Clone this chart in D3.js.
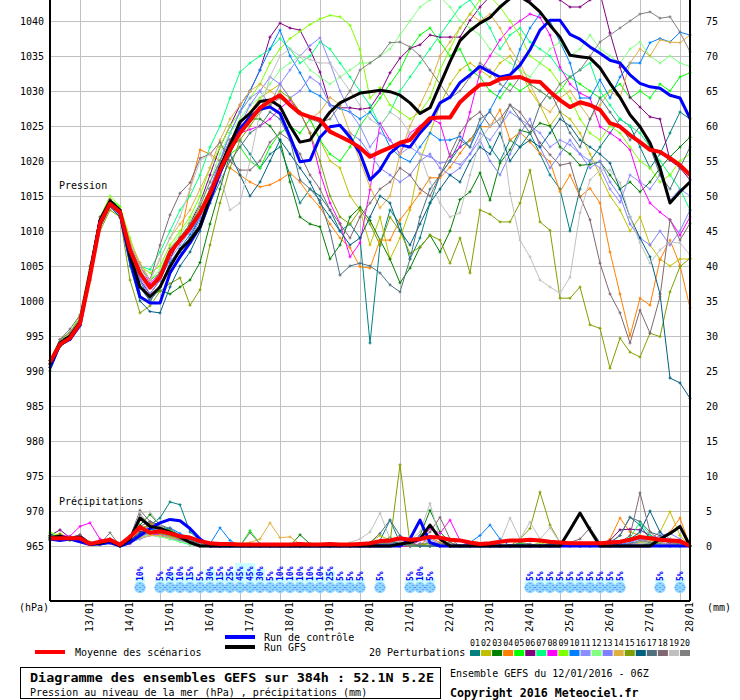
<!DOCTYPE html>
<html>
<head>
<meta charset="utf-8">
<script src="https://cdn.jsdelivr.net/npm/d3@7"></script>
<style>
	body { margin: 0; background: #fff; }
	svg text { font-family: "DejaVu Sans Mono", "Liberation Mono", monospace; }
</style>
</head>
<body>
<svg id="chart" width="740" height="700"></svg>
<script>
// run GEFS 12/01/2016 06Z, one value every 6h (65 steps over 384h)
const dateLabels = ["13/01","14/01","15/01","16/01","17/01","18/01","19/01","20/01","21/01","22/01","23/01","24/01","25/01","26/01","27/01","28/01"];
const pressureTicks = [965,970,975,980,985,990,995,1000,1005,1010,1015,1020,1025,1030,1035,1040];
const precipTicks = [0,5,10,15,20,25,30,35,40,45,50,55,60,65,70,75];
const pertNames = ["01","02","03","04","05","06","07","08","09","10","11","12","13","14","15","16","17","18","19","20"];
const pertColors = ["#008080","#c0c000","#008000","#ff8000","#00ff00","#800080","#00ff80","#ff00ff","#80ff00","#0080ff","#8c8cff","#80ff80","#8080ff","#e0b040","#80a000","#006080","#507080","#806870","#c0c0c0","#808080"];

const pMean = [
	991.3,993.8,994.7,996.8,1003.5,1011.1,1013.9,1012.7,
	1007.3,1004,1001.9,1003.4,1006.9,1008.7,1010.4,1012.6,
	1015.4,1018.7,1021.6,1024,1025.8,1027.6,1028.6,1029.4,
	1028,1026.8,1026.3,1025.9,1024.2,1023.5,1022.8,1021.9,
	1020.6,1021.3,1021.9,1022.6,1023,1024.7,1026.1,1026.2,
	1026.2,1028.4,1029.7,1030.9,1031,1031.7,1031.9,1032,
	1031.4,1031.3,1029.9,1028.7,1027.7,1028.4,1028,1027.3,
	1025.4,1024.9,1023.7,1022.7,1021.6,1021.3,1020.4,1019.4,
	1018];
const pControl = [
	990.5,993.8,994.5,996.5,1003.8,1011.5,1014,1012.5,
	1006,1000.6,999.7,999.7,1004,1006.3,1008.3,1010.6,
	1014.4,1018.3,1021.6,1024.6,1026.3,1027.4,1027.7,1026.8,
	1023.5,1019.9,1020.1,1023.4,1024.9,1025.1,1023.4,1021.1,
	1017.3,1018.7,1021.1,1022.3,1022,1024,1025.6,1028.3,
	1029.1,1031.2,1032.3,1033.5,1032.7,1032,1032.3,1033.7,
	1035.9,1038.7,1040.1,1040.1,1038.1,1037.4,1036.3,1035.4,
	1034.4,1034,1032.3,1031.1,1030.6,1030.4,1029.4,1029,
	1026.1];
const pGfs = [
	991,994,995,997,1004,1011.5,1014.3,1013,
	1006.5,1002,1000.6,1002,1004.9,1007.3,1008.7,1010.6,
	1014.9,1019.1,1022.3,1025.6,1026.8,1028.5,1028.7,1027.8,
	1025,1022.7,1023,1025.1,1027,1028.3,1029,1029.7,
	1029.9,1030.1,1029.9,1029.4,1028.3,1026.8,1027.6,1030.9,
	1034.2,1037.2,1038.6,1039.7,1040.5,1042,1043.2,1043.5,
	1042.6,1041.3,1039.4,1037.7,1035.1,1034.9,1034.7,1033.3,
	1031.1,1029.1,1026.6,1024.9,1022.6,1019,1014,1015.6,
	1017];

const p01 = [991,994,995,997,1004,1011.5,1014,1012.5, 1007,1003,1000,1002,1005,1007,1009,1012, 1016,1019,1022,1023,1021,1019,1021,1022, 1018,1014,1016,1015,1013,1010,1011,1009, 994,1008,1013,1011,1006,1009,1014,1018, 1020,1022,1023,1025,1022,1020,1023,1022, 1024,1021,1018,1016,1010,1016,1020,1022, 1024,1026,1025,1022,1019,1021,1024,1027, 1026];
const p02 = [990.5,994,995.5,997.5,1004.5,1011,1013.5,1012.5, 1007,1004,1002,1004,1007,1009,1011,1013, 1016,1019,1022,1024,1027,1029,1030,1031, 1029,1027,1026,1023,1020,1019,1015,1013, 1008,1012,1006,1009,1013,1020,1024,1028, 1031,1033,1034,1033,1032,1034,1035,1033, 1030,1028,1025,1027,1026,1024,1021,1018, 1015,1013,1010,1012,1008,1006,1005,1006, 1006];
const p03 = [991,994.5,995,997,1003.5,1010.5,1013.5,1012, 1006,1002,1000.5,1001.5,1001,1002,1003,1005.5, 1011,1016,1021,1024,1026,1026,1025,1023, 1017,1012,1011,1010.6,1006,1008,1012,1013.4, 1011.5,1008.7,1006,1002.6,1004.7,1007.7,1009.4,1007, 1010,1014.5,1015.6,1018.3,1014.4,1019.7,1021.6,1024.4, 1024,1025.4,1025,1022,1021,1019.4,1019.5,1019.9, 1018,1016,1017,1015.6,1017,1019,1020.6,1022, 1023.4];
const p04 = [991.5,994.5,995.5,997.5,1004,1011.5,1014,1012.5, 1007.5,1004,1002,1004,1006,1009,1016,1021.6, 1021,1020,1019,1018,1017,1016.3,1016.6,1017.3, 1018.3,1017,1015,1013.4,1011,1009,1007.6,1004.9, 1004.7,1008.7,1008.7,1011.6,1013.4,1015.4,1017.6,1017.6, 1019.1,1021.1,1023,1024.9,1024.9,1027.3,1023,1024.1, 1022.7,1021.1,1019.9,1015.6,1018,1014.9,1016.1,1014, 1007,1001,995,1000.4,999.4,1005.9,1008.7,1005.1, 999];
const p05 = [991,994,995,997.5,1004,1011,1014.5,1013.5, 1008,1005,1003,1004,1007,1009,1011,1013, 1016,1019,1021,1022,1020,1019,1022,1024, 1025,1024,1026,1023,1021,1020,1022,1025, 1027,1029,1031,1033,1036,1038,1039,1037, 1035,1036,1033,1032,1030,1029,1031,1030, 1031,1030,1029,1030,1032,1031,1030,1029, 1030,1031,1029,1030,1029,1031,1030,1032, 1032.6];
const p06 = [991,994,995,997,1004.5,1011.5,1014.5,1013, 1007,1003,1001,1003,1006,1009,1011,1014, 1018,1022,1025,1028,1030,1033,1037.7,1039.7, 1039,1038.7,1035.9,1032.7,1028,1027.6,1027.6,1027.4, 1027.6,1029.7,1032.6,1034.7,1036.1,1036.6,1038,1037.7, 1037.7,1037.7,1040.1,1042,1043.5,1044,1044,1043.5, 1043,1043.5,1044,1043,1042,1042,1043,1044, 1038.3,1033.4,1029.1,1027.7,1026.3,1026,1020.1,1019, 1017.3];
const p07 = [991.5,994.5,995.5,997.5,1004,1011,1014,1013, 1008,1005,1004.5,1007,1010,1013,1015,1018, 1022,1025,1029,1032.7,1034,1035,1036,1037.5, 1036,1034,1035,1037,1036,1034,1032,1030, 1028,1025,1027,1030,1032,1034,1036,1038, 1040,1042,1043,1041,1039,1036,1038,1039, 1037,1036,1035,1033,1032,1033,1034,1030, 1028,1026,1025,1024,1022,1020,1018,1016, 1013];
const p08 = [991,994,995,997,1004,1010.5,1013.5,1012.5, 1008,1005,1002.5,1004,1007,1008.5,1010,1012, 1016,1019,1023,1024,1024.5,1025,1026,1027.5, 1028.7,1026.9,1024,1018.3,1014,1011.1,1006.3,1008.3, 1015.9,1025.4,1023,1021,1024,1025,1026.1,1025.4, 1020.6,1022,1027,1032.7,1035,1037.3,1039,1040, 1041,1040.5,1038,1033.4,1031,1029.7,1029,1024.9, 1024,1023,1021.6,1017,1014,1012.7,1011.6,1009.4, 1012];
const p09 = [991.5,994.5,995.5,998,1005,1012,1015,1013.5, 1009,1005,1004,1005,1008,1010,1012,1015, 1019,1022,1025,1027,1029,1031,1034,1036, 1037.5,1038.5,1039.5,1040.3,1040.8,1040.6,1039.4,1035.9, 1029,1030.5,1028,1027,1026,1027,1029,1033, 1036,1039,1041,1043,1043.5,1042,1040,1038, 1035,1034,1033,1031,1029,1026,1024,1023, 1025,1024,1022,1020,1019,1017,1018,1020, 1021];
const p10 = [990.5,993.5,994.5,996.5,1003.5,1011,1014,1012.5, 1007,1002,1000,1002,1005.5,1007.5,1009.5,1012, 1016,1020,1024,1027,1030,1033,1036,1038.7, 1035,1032.6,1030,1029.3,1028,1027.5,1027,1026, 1027,1025,1022,1020.6,1019.9,1022,1024,1023, 1023,1023.5,1022,1025,1027.3,1030,1032,1036, 1039,1041,1040,1037,1034,1029,1029,1031.6, 1029,1032,1034,1034,1036.9,1037.5,1037,1038.4, 1038];
const p11 = [991,994,995,997,1004,1011,1014,1012.5, 1007,1003.5,1001,1003,1006,1008,1010,1012, 1016,1020,1024,1027,1029,1030,1028,1031, 1033,1035,1036.5,1037.6,1034,1030,1027,1025, 1022,1024,1023,1021,1022,1021,1020.6,1019.7, 1020,1019.5,1021,1024,1023,1025,1027,1026, 1025,1024,1022,1023,1022.3,1021,1020,1019, 1016,1014.1,1018,1017,1016,1018,1014.4,1016, 1015];
const p12 = [991,994,995,997,1004,1011,1014,1013, 1007.5,1004.5,1003,1004.5,1007.5,1009.5,1011.5,1014, 1017,1021,1024,1026,1028,1029,1031,1033, 1034,1035,1033,1032,1031,1032,1033,1034, 1034,1035,1036,1038,1040,1042,1043,1043.5, 1042,1040,1039,1038,1036,1035,1034,1033, 1032,1034,1036,1037,1035,1036,1038,1036, 1035,1034,1036,1037,1035,1034,1035,1034, 1033.5];
const p13 = [990.5,994,995,997,1003.5,1010.5,1013.5,1012, 1006.5,1003,1000.5,1002,1005,1007,1009,1011.5, 1015,1019,1023,1025,1028,1030,1032,1031, 1029,1030,1032,1031,1028,1025,1024,1023, 1021,1019,1018,1017,1018,1020,1021,1019, 1018,1019,1021,1023,1020,1018,1021,1024, 1026,1022,1019,1021,1023,1021,1019,1020, 1017,1015,1011,1009,1008,1010,1008,1010, 1013];
const p14 = [991,994.5,995.5,997.5,1004.5,1011.5,1014.5,1013, 1008.5,1005.5,1003,1006,1009,1011,1013,1016, 1019,1023,1026,1028,1030,1031,1030,1029, 1028,1027,1026,1027,1029.1,1028,1024,1020, 1016.3,1013.3,1015,1021,1025,1028,1031,1035, 1037,1039,1041,1040,1041,1039,1036,1034, 1031,1028,1027,1029,1030,1028,1026,1028, 1030,1029,1034,1036,1035,1037.3,1037,1036.9, 1038];
const p15 = [990.5,993.5,994.5,996.5,1003,1010,1013,1012, 1003,998.3,999.3,1001.4,1002.5,1003.3,999.4,1001.6, 1008,1014,1019,1023,1025,1027,1028,1030, 1029,1027,1024,1020,1015,1012,1011,1013, 1011,1008,1012,1010,1006.8,1007.7,1009.4,1008.7, 1005.4,1009,1004,1013,1012.4,1011.3,1011.3,1014, 1018.7,1011.3,1010.1,1000.4,1000.4,1002,996.6,996.1, 990.4,994.7,992.7,992,995.4,994.9,1001.3,1004.9, 1006.1];
const p16 = [990,993.5,994.5,996.5,1003,1010.5,1013.5,1012, 1005,1000,998.5,998.3,1002,1005,1007,1010, 1014,1018,1021,1018,1015,1017,1020,1023, 1021,1019,1017,1014,1012,1010,1008,1009, 1012,1015,1014,1010,1008,1011,1014,1016, 1018,1017,1020,1022,1021,1024,1020,1022, 1023,1022,1024,1026,1025,1023,1022,1021, 1019.7,1016,1012,1009,1006.3,1001,989,988.3, 986.1];
const p17 = [991,994,995,997,1004,1011,1014,1012.5, 1006,1002,1000,1002,1005,1007,1009,1011, 1014,1017,1020,1022,1024,1025,1027,1026, 1023,1017.3,1016,1014.4,1010,1003.7,1005,1005.4, 1005,1004,1002.3,1001.3,1006,1012,1016,1018, 1020,1023,1022,1026,1027,1025,1028,1026, 1024,1028,1030,1027,1024,1022,1026,1029, 1027,1025,1023,1025,1022,1018,1016,1019, 1022];
const p18 = [991.5,994.5,996,998,1005,1012,1014.5,1013, 1008,1005,1003,1008,1012.3,1015.4,1016.9,1020.4, 1021,1022.7,1020,1018.7,1018.7,1020,1022.7,1024, 1023,1021,1018,1016,1013,1011,1009,1012, 1014,1016,1017,1019,1018,1016,1015,1018, 1021,1024,1026,1027,1025,1026,1028,1027, 1025,1022.6,1020.9,1019.4,1019.7,1014.9,1011.6,1005.4, 1001,998.3,994,998.7,995.4,1000.6,1011.6,1008.7, 1011.1];
const p19 = [991,994,995,997.5,1004.5,1011.5,1014,1013, 1008,1005,1003,1006,1009,1012,1016,1020, 1021,1018,1013,1014,1020,1027,1032,1035, 1036,1035,1034.5,1034,1034,1032,1030,1028, 1026,1025,1027,1026,1024,1021,1017,1014, 1012,1012.6,1018,1023,1025,1026.1,1015.4,1008.7, 1006.3,1003,1002,1001.1,1003.4,1012.6,1017.3,1018.7, 1018.7,1016.9,1012,1008.3,1005.4,1007.3,1008.4,1008.3, 1006.6];
const p20 = [991,994.5,995.5,997.5,1004,1011,1014,1012.5, 1007,1004,1002,1004,1007.5,1009,1011,1013.5, 1017,1020,1023,1025,1026,1027.5,1028,1029, 1028,1027,1026,1025.5,1026,1028,1030,1033, 1034,1035,1036.9,1037,1036.3,1035,1033,1031, 1029,1030,1032,1034,1033,1031,1030,1032, 1031,1030,1029,1031,1032,1033,1035,1037, 1038,1039,1040,1041,1041.3,1040.4,1040.6,1038.4, 1035.6];

// precipitation (mm per 6h)
const rMean = [1.1,1.1,1.1,1.1,0.3,0.6,0.9,0.2, 1.3,2.7,1.9,2.1,1.8,1.4,1.2,0.7, 0.4,0.3,0.3,0.2,0.2,0.2,0.2,0.2, 0.2,0.3,0.2,0.2,0.3,0.2,0.2,0.3, 0.4,0.7,0.8,1.1,0.9,1,1.3,1.2, 0.9,0.8,0.5,0.3,0.4,0.6,0.8,0.8, 0.9,0.8,0.6,0.5,0.4,0.4,0.4,0.4, 0.5,0.6,0.9,1.3,1.1,0.9,0.8,0.7, 0];
const rControl = [1,0.8,1,0.6,0.2,0.3,0.5,0, 0.5,1.5,2.5,3.3,3.8,3.6,2.5,1, 0,0,0,0,0,0,0,0, 0,0,0,0,0,0,0,0, 0,0,0,0,1,3.7,0.5,0, 0,0,0,0,0,0,0,0, 0,0,0,0,0,0,0,0, 0,0,0,0,0,0,0,0, 0];
const rGfs = [1.2,1.4,1,1.3,0.3,0.4,0.8,0, 1,4,2.8,2.5,2,1.3,0.5,0, 0,0,0,0,0,0,0,0, 0,0,0,0,0,0,0,0, 0,0,0,0.3,0.5,1,3,1, 0,0,0,0,0,0,0,0, 0,0,0,0,2.3,4.7,2.3,0, 0,0,0,0,0,1,1.8,2.8, 0];
const r01 = [1.5,1.2,1,1.4,0.5,0.4,0.8,0, 1,2.5,3,4,6.3,5.9,2,0.8, 0.3,0,0,0.2,0,0,0,0, 0,0,0.3,0,0,0,0,0, 0,0.8,3.7,0.5,0,0.3,0,0, 0,0,0,0.2,0,0,0,0.3, 0,0,0,0,0,0.4,0,0, 0.5,1.5,4.1,3,1,0.5,0,0.3, 0];
const r02 = [1.2,1.8,1,1.5,0.6,0.2,1,0, 0.8,2,3.2,2.5,1.6,1,0.6,0.2, 0,0,0,0,0.3,0,0,0, 0,0,0,0,0,0.2,0,0, 0.5,1.5,0.8,0,0,0,0,0, 0,0,0,0,0,0,0,0, 0,0.5,0,0,0,0,0,0, 0,0,0,0.5,1,2,4.9,1.5, 0];
const r03 = [1,1.6,0.8,1.2,0.3,0.5,0.6,0, 1.5,3,4.5,3,2.2,1.5,0.8,0.3, 0,0,0,0,0,0,0,0, 0,1.6,0.3,0,0,0,0,0, 0,0.5,1.2,0.3,0,1.5,5.1,2, 0.5,0,0,0,0,0,0,0, 0,0,0.4,0.2,0,0,0,0, 0,0,0,0,0.3,0,0,0, 0];
const r04 = [1.3,1.1,1.2,1,0.4,0.3,0.8,0, 1,2.2,3.3,2.6,2,1.2,0.5,0, 0,0,0,0,0,0,0,0, 0,0,0,0,0,0,0,0, 0,0.3,0.5,0.8,0.3,0.2,1.2,0.5, 0,0,0,0,0,0,0,0, 0,0,0,0.3,0,0,0,0, 1,4,2,1.5,0.5,0.8,2,4, 0];
const r05 = [1.8,1.2,1,1.3,0.4,0.3,0.9,0, 0.5,1.5,2,2.8,2.2,1.5,0.6,0, 0,0,0,0,2.2,0.3,0,0, 0,0,0,0,0,0,0,0, 0,0.4,0.6,0.2,0,0,0,0, 0,0,0,0,0,0,0,0.4, 0.2,0,0,0,0,0,0,0, 0,0,0.3,0.6,0.2,0,0,0, 0];
const r06 = [1.5,2.3,1.2,1.6,0.5,0.6,0.8,0, 0.8,2,2.5,2,1.5,1,0.5,0.2, 0,0,0,0,0,0,0,0, 0,0,0,0,0,0,0,0, 0,0.2,0.4,0,0,0,0,0, 0,0,0,0,0,0,0,0, 0,0,0,0,0,0,0,0.3, 0.8,2.3,2.4,2.3,1.5,1,0.5,0.3, 0];
const r07 = [1,1.3,0.9,1.1,0.2,0.2,0.4,0, 0.5,1.4,1.8,1.5,1,0.6,0.2,0, 0,0,0,0,0,0,0,0, 0,0,0,0,0,0,0,0.3, 0,0,0.5,0.3,0,0,0.4,0.2, 0,0,0,0,0,0,0,0, 0,0,0,0,0,0,0,0, 0,0.4,1.2,3.4,1.5,0.5,0,0.5, 0];
const r08 = [1.2,1.5,1.4,2.8,3.3,1,0.4,0, 0.3,1.5,1.8,1.6,1.2,0.8,0.3,0, 0,0,0,0,0,0,0,0, 0,0,0,0,0,0,0,0, 0,0.2,0.4,0,0,0.8,2.5,1.8, 3.7,0.8,0,0,0,0,0,0, 0,0,0,0,0,0,0,0, 0,0.3,0.8,1,0.6,0.5,0.3,0, 0];
const r09 = [2,1.4,1,1.2,0.4,0.3,0.7,0, 0.5,1.2,2,1.8,1.3,0.8,0.3,0, 0,0,0,0,0,0,0,0, 0,0,0,0,0,0,0,0, 0,0,0.3,0.2,0,0,0.5,0.3, 0,0,0,0,0,0,0,0, 0,0,0.5,0,0,0,0,0, 0,0,0.3,0.5,0.8,0.5,1,0.8, 0];
const r10 = [1.1,1,1.2,1,0.3,0.2,0.5,0, 0.6,1.5,2.4,2.2,2.6,1.8,1,0.5, 0.3,2.6,0.8,0,0,0,0,0, 0,0,0,0,0,0,0,0, 0,0,0.3,0.5,0.2,0,0,0, 0,0,0.5,1.5,3,1,0,0, 0,0,0,0,0,0,0,0, 0,0.2,0.5,0.4,0.3,0.2,0,0, 0];
const r11 = [0.8,1.2,1,0.9,0.2,0.3,0.5,0, 0.5,1,1.5,1.4,1.2,0.8,0.4,0, 0,0,0,0,0,0,0,0, 0,0,0,0,0,0,0,0, 0,0.3,0.5,0.3,0.5,1,0.5,0.2, 0,0,0,0,0,0,0,0, 0,0,0,0,0,0,0,0, 0,0,0.3,0.5,1,2,1,0.5, 0];
const r12 = [1.4,1,1.1,1.2,0.3,0.4,0.6,0, 0.4,1.2,1.6,1.3,1,0.6,0.3,0, 0,0,0,0,0,0,0,0, 0,0,0,0,0,0,0,0, 0,0,0,0.2,0,0,0,0, 0,0,0,0,0,0,0,0, 0,0.3,0,0,0,0,0,0, 0,0,0,0.4,0.6,0.3,0.5,0.8, 0];
const r13 = [0.9,1.1,1,1,0.3,0.2,0.4,0, 0.6,1.3,1.9,1.7,1.4,1,0.5,0.2, 0,0,0,0,0,0,0,0, 0,0,0,0,0,0,0,0, 0,0,0.4,0.8,0.6,1.5,1,0.3, 0,0,0,0,0,0,0,0, 0,0,0,0,0,0,0,0, 0,0,0.5,1,0.8,1.5,1.8,1, 0];
const r14 = [1,1.3,1.2,1,0.3,0.3,0.5,0, 0.5,1.2,1.5,1.5,1.2,1,0.6,0.2, 0,0,0,0.3,0.5,1,3.3,1.2, 1.3,0.3,0,0,0,0,0,0, 0,0.5,1,0.5,0,0,0.3,0, 0,0,0,0,0,0,0,0, 0,0,0,0,0,0,0,0, 0,0,0,0.5,0.8,1,0.5,0.3, 0];
const r15 = [1.3,1.1,1,1.2,0.3,0.2,0.5,0, 0.4,1.6,2,1.8,1.5,1,0.5,0, 0,0,0,0,0,0,0,0, 0,0,0,0,0,0,0,0, 0,0.3,0.5,11.6,0.3,0,0.5,0.3, 0,0,0,0,0,0,0,1, 2.5,7.7,3,0.5,0,0,0,0, 0,0,0,0,0.5,0.3,0,0.5, 0];
const r16 = [1.2,1,1.3,1.1,0.4,0.3,0.6,0, 0.8,1.8,3,2.5,1.8,1.2,0.6,0.2, 0,0,0,0,0,0,0,0, 0,0,0,0,0,0,0,0, 0,0.5,0.8,0.3,0,0,0,0, 0,0,0,0,0,0,0,0, 0,0,0,0,0.3,0,0,0, 0,0.5,1,2,5,2,0.5,0.8, 0];
const r17 = [1,1.2,1.1,1.3,0.5,0.4,1,0, 1,2.8,3.5,3,2.5,1.5,0.8,0.3, 0,0,0,0,0,0,0,0, 0,0,0,0,0,0,0,0, 0.5,1.8,3.7,1.5,0.5,0,0,0, 0,0,0,0,0,0,0,0, 0,0,0.3,0,0.3,0,0,0, 0.5,1.5,4.1,3.5,2,1.5,0.8,0.5, 0];
const r18 = [1.5,1.2,1.3,1.4,0.5,0.3,1,0, 1.2,5.1,3.5,2.8,2,1.2,0.6,0.2, 0,0,0,0,0,0,0,0, 0,0,0,0,0,0,0,0, 0,0.3,0.5,0.3,0.5,1,2,4.1, 1,0,0,0,0,0,0,0, 0,0,0,0,0.5,1,2.6,0.5, 0,0.5,1.5,7.6,2,0.8,0.5,0.3, 0];
const r19 = [1.1,1.3,1,1.2,0.3,0.4,0.7,0, 1,4.8,4.9,3,2,1.2,0.6,0.2, 0,0,0,0,0,0,0,0, 0,0,0,0,0,0,0.5,1, 2,4.7,1,0.5,0.8,2,6.1,1, 0.3,0,0,0,0,0.5,4,1, 3.4,1,2.6,0.5,0,0,0,0, 0,0,0,0.3,0.5,0.3,0,0, 0];
const r20 = [0.8,1,1.2,1.5,0.5,0.3,1.9,0, 0.8,4.5,3,2.5,1.8,1,0.5,0.2, 0,0,0,0,1.9,0.3,0,0, 0,0,0,0,0,0,0,0, 0,0.3,0.5,0.3,0,0.3,0.5,0.3, 0.5,0,0,0,0,0,0,0.5, 0.3,0,0,0,0,0,0,0, 0,0,0.3,0.8,0.5,0.3,0.2,0.5, 0];

// snow risk: step index and probability
const snowSteps = [9,11,12,13,14,15,16,17,18,19,20,21,22,23,24,25,26,27,28,29,30,31,33,36,37,38,48,49,50,51,52,53,54,55,56,57,61,63];
const snowPct = [10,5,20,10,15,5,30,15,25,45,45,30,5,10,10,10,10,10,25,5,5,5,5,5,10,5,5,5,5,5,5,5,5,5,5,5,5,5];

const pertPressure = [p01,p02,p03,p04,p05,p06,p07,p08,p09,p10,p11,p12,p13,p14,p15,p16,p17,p18,p19,p20];
const pertPrecip = [r01,r02,r03,r04,r05,r06,r07,r08,r09,r10,r11,r12,r13,r14,r15,r16,r17,r18,r19,r20];

class EnsembleChart {
	constructor(el) {
		this.svg = d3.select(el);
		this.x = d3.scaleLinear().domain([0,384]).range([50,690]);
		this.yP = d3.scaleLinear().domain([965,1040]).range([546,21]);
		this.yR = d3.scaleLinear().domain([0,75]).range([546,21]);
		this.snowBar = d3.scaleLinear().domain([0,45]).range([2,20]);
	}

	draw_grid() {
		const g = this.svg.append("g").attr("shape-rendering","crispEdges").attr("stroke","#c0c0c0");
		g.selectAll(".hg").data(pressureTicks).enter()
		 .append("line")
		 .attr("x1",50).attr("x2",690)
		 .attr("y1",d => this.yP(d)).attr("y2",d => this.yP(d));
		g.selectAll(".vg").data(dateLabels).enter()
		 .append("line")
		 .attr("x1",(d,i) => this.x(18 + 24*i)).attr("x2",(d,i) => this.x(18 + 24*i))
		 .attr("y1",0).attr("y2",600);
		return this;
	}

	draw_axes() {
		const left = d3.axisLeft(this.yP).tickValues(pressureTicks).tickSize(0).tickPadding(6).tickFormat(d3.format("d"));
		const right = d3.axisRight(this.yR).tickValues(precipTicks).tickSize(0).tickPadding(16).tickFormat(d3.format("d"));
		const bottom = d3.axisBottom(this.x).tickValues(dateLabels.map((d,i) => 18 + 24*i))
		                 .tickSize(0).tickFormat((d,i) => dateLabels[i]);

		[[left,50],[right,690]].forEach(([ax,tx]) => {
			const g = this.svg.append("g").attr("transform",`translate(${tx},0)`).call(ax);
			g.select(".domain").remove();
			g.selectAll("text").attr("font-size",10).attr("fill","#000")
			 .style("font-family","'DejaVu Sans Mono', monospace");
		});

		const gb = this.svg.append("g").attr("transform","translate(0,600)").call(bottom);
		gb.select(".domain").remove();
		gb.selectAll("text")
		  .attr("y",0).attr("dy",0).attr("x",0)
		  .attr("text-anchor","start")
		  .attr("transform","translate(12,32) rotate(-90)")
		  .attr("font-size",10).attr("fill","#000")
		  .style("font-family","'DejaVu Sans Mono', monospace");

		const frame = this.svg.append("g").attr("stroke","#000").attr("stroke-width",2).attr("shape-rendering","crispEdges");
		frame.append("line").attr("x1",50).attr("x2",50).attr("y1",0).attr("y2",601);
		frame.append("line").attr("x1",690).attr("x2",690).attr("y1",0).attr("y2",601);
		frame.append("line").attr("x1",50).attr("x2",690).attr("y1",601).attr("y2",601);

		const lab = [["Pression",59,189],["Précipitations",59,505],["(hPa)",19,611],["(mm)",707,611]];
		this.svg.selectAll(".lab").data(lab).enter()
		    .append("text")
		    .attr("x",d => d[1]).attr("y",d => d[2])
		    .attr("font-size",10)
		    .text(d => d[0]);
		return this;
	}

	#series(values,yScale,colour,width,markers) {
		const line = d3.line().x((d,i) => this.x(i*6)).y(d => yScale(d));
		this.svg.append("path")
		    .attr("fill","none")
		    .attr("stroke",colour)
		    .attr("stroke-width",width)
		    .attr("stroke-linejoin","round")
		    .attr("d",line(values));
		if (markers) {
			this.svg.append("g")
			    .attr("stroke",colour)
			    .selectAll("path").data(values).enter()
			    .append("path")
			    .attr("d",(d,i) => `M${this.x(i*6)-1.5},${yScale(d)}h3M${this.x(i*6)},${yScale(d)-1.5}v3`);
		}
	}

	draw_lines() {
		pertPressure.forEach((s,k) => this.#series(s,this.yP,pertColors[k],1,true));
		pertPrecip.forEach((s,k) => this.#series(s,this.yR,pertColors[k],1,true));
		this.#series(pControl,this.yP,"#0000ff",3,false);
		this.#series(rControl,this.yR,"#0000ff",3,false);
		this.#series(pGfs,this.yP,"#000000",3,false);
		this.#series(rGfs,this.yR,"#000000",3,false);
		this.#series(pMean,this.yP,"#ff0000",4,false);
		this.#series(rMean,this.yR,"#ff0000",4,false);
		return this;
	}

	draw_snow() {
		const g = this.svg.append("g");
		const xs = snowSteps.map(s => this.x(s*6));
		g.selectAll("rect").data(snowPct).enter()
		 .append("rect")
		 .attr("x",(d,i) => xs[i]-5).attr("width",10)
		 .attr("y",d => 583 - this.snowBar(d)).attr("height",d => this.snowBar(d))
		 .attr("fill","#ccffff");
		g.selectAll("circle").data(snowPct).enter()
		 .append("circle")
		 .attr("cx",(d,i) => xs[i]).attr("cy",587.5).attr("r",5.7)
		 .attr("fill","#90d4ff");
		g.selectAll(".flake").data(snowPct).enter()
		 .append("path")
		 .attr("fill","#3f8ef0")
		 .attr("d",(d,i) => {
			const cx = xs[i], cy = 587.5;
			return [[0,0],[-3,-2],[3,-2],[-3,2],[3,2],[0,-4],[0,4],[-4.5,0],[4.5,0]]
			       .map(([dx,dy]) => `M${cx+dx-0.6},${cy+dy-0.6}h1.2v1.2h-1.2z`).join("");
		 });
		g.selectAll("text").data(snowPct).enter()
		 .append("text")
		 .attr("transform",(d,i) => `translate(${xs[i]+3},581) rotate(-90)`)
		 .attr("font-size",8).attr("font-weight","bold").attr("fill","#0000ff")
		 .text(d => d + "%");
		return this;
	}

	draw_legend() {
		const items = [["#ff0000",35,652,"Moyenne des scénarios",75,656],
		               ["#0000ff",225,637,"Run de contrôle",264,641],
		               ["#000000",225,647,"Run GFS",264,651]];
		items.forEach(([c,x0,y0,t,tx,ty]) => {
			this.svg.append("line").attr("x1",x0).attr("x2",x0+30).attr("y1",y0).attr("y2",y0)
			    .attr("stroke",c).attr("stroke-width",4);
			this.svg.append("text").attr("x",tx).attr("y",ty).attr("font-size",10).text(t);
		});
		this.svg.append("text").attr("x",369).attr("y",656).attr("font-size",10).text("20 Perturbations");

		const sw = d3.scaleBand().domain(pertNames).range([470,690]).paddingInner(0.09);
		this.svg.selectAll(".sw").data(pertNames).enter()
		    .append("rect")
		    .attr("x",d => sw(d)).attr("y",650).attr("width",sw.bandwidth()).attr("height",6)
		    .attr("fill",(d,i) => pertColors[i]);
		this.svg.selectAll(".swl").data(pertNames).enter()
		    .append("text")
		    .attr("x",d => sw(d) + sw.bandwidth()/2).attr("y",646)
		    .attr("text-anchor","middle").attr("font-size",8.3)
		    .text(d => d);

		this.svg.append("rect").attr("x",20.5).attr("y",667.5).attr("width",420).attr("height",31)
		    .attr("fill","none").attr("stroke","#000");
		this.svg.append("text").attr("x",30).attr("y",682).attr("font-size",12.5).attr("font-weight","bold")
		    .attr("textLength",404).attr("lengthAdjust","spacingAndGlyphs")
		    .text("Diagramme des ensembles GEFS sur 384h : 52.1N 5.2E");
		this.svg.append("text").attr("x",30).attr("y",696).attr("font-size",10)
		    .text("Pression au niveau de la mer (hPa) , précipitations (mm)");
		this.svg.append("text").attr("x",450).attr("y",677).attr("font-size",10)
		    .text("Ensemble GEFS du 12/01/2016 - 06Z");
		this.svg.append("text").attr("x",450).attr("y",697).attr("font-size",11.6).attr("font-weight","bold")
		    .text("Copyright 2016 Meteociel.fr");
		return this;
	}

	generate() {
		this.draw_grid()
		    .draw_snow()
		    .draw_lines()
		    .draw_axes()
		    .draw_legend();
	}
}

new EnsembleChart("#chart").generate();
</script>
</body>
</html>
